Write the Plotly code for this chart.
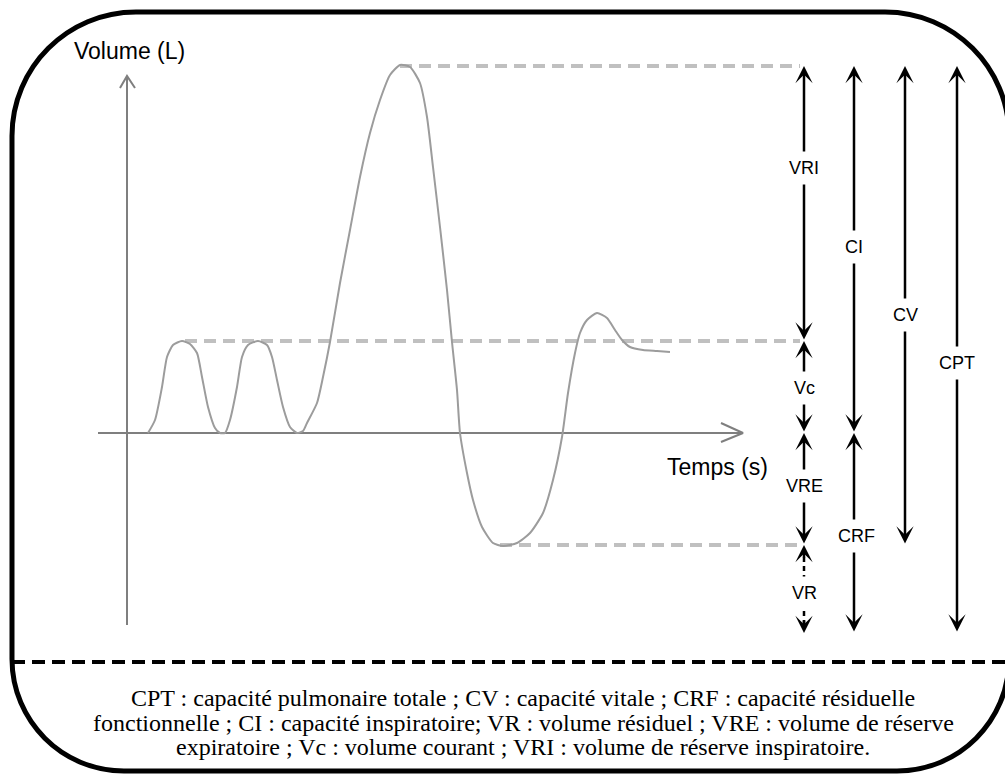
import plotly.graph_objects as go

# ---------------- data (time in s, volume in L relative to FRC level) ----------------
curve_t = [0.21, 0.28, 0.35, 0.40, 0.46, 0.55, 0.63, 0.70, 0.75, 0.81, 0.88, 0.93, 0.98,
           1.03, 1.10, 1.15, 1.21, 1.31, 1.40, 1.45, 1.50, 1.56, 1.63, 1.70, 1.76, 1.80,
           1.90, 1.96, 2.03, 2.13, 2.23, 2.33, 2.43, 2.53, 2.63, 2.73, 2.83, 2.93, 3.00,
           3.06, 3.13, 3.20, 3.25, 3.30, 3.33, 3.40, 3.46, 3.55, 3.66, 3.76, 3.90, 4.03,
           4.16, 4.26, 4.35, 4.41, 4.48, 4.53, 4.60, 4.70, 4.80, 4.88, 4.95, 5.03, 5.16,
           5.30, 5.43]
curve_v = [0.00, 0.13, 0.46, 0.76, 0.88, 0.92, 0.89, 0.80, 0.56, 0.26, 0.05, 0.00, 0.00,
           0.13, 0.46, 0.76, 0.88, 0.92, 0.88, 0.76, 0.53, 0.26, 0.06, 0.00, 0.02, 0.10,
           0.30, 0.56, 0.91, 1.50, 2.03, 2.56, 3.00, 3.33, 3.58, 3.68, 3.66, 3.50, 3.16,
           2.66, 2.06, 1.43, 0.91, 0.43, 0.00, -0.40, -0.67, -0.94, -1.10, -1.13, -1.10, -1.00,
           -0.80, -0.47, -0.04, 0.40, 0.80, 1.00, 1.13, 1.20, 1.15, 1.03, 0.93, 0.86, 0.83,
           0.82, 0.81]

# reference volume levels (L)
level_tlc = 3.67
level_vt_top = 0.92
level_frc = 0.00
level_rv = -1.12
level_zero = -2.00

# volume compartments
volume_names = ["VRI", "Vc", "VRE", "VR"]
volume_lo = [level_vt_top, level_frc, level_rv, level_zero]
volume_hi = [level_tlc, level_vt_top, level_frc, level_rv]
volume_label_v = [2.65, 0.45, -0.53, -1.60]

# capacities
capacity_names = ["CI", "CRF", "CV", "CPT"]
capacity_lo = [level_frc, level_zero, level_rv, level_zero]
capacity_hi = [level_tlc, level_frc, level_tlc, level_tlc]
capacity_label_v = [1.86, -1.03, 1.18, 0.70]

footer_lines = [
    "CPT : capacité pulmonaire totale ; CV : capacité vitale ; CRF : capacité résiduelle",
    "fonctionnelle ; CI : capacité inspiratoire; VR : volume résiduel ; VRE : volume de réserve",
    "expiratoire ; Vc : volume courant ; VRI : volume de réserve inspiratoire.",
]

# ---------------- layout constants ----------------
W, H = 1005, 774
X_RANGE = [-1.27, 8.78]
Y_RANGE = [-3.41, 4.33]
col_vol = 6.77
col_cap = [7.27, 7.27, 7.78, 8.30]
axis_grey = "#7f7f7f"
curve_grey = "#9c9c9c"
dash_grey = "#c0c0c0"
label_font = dict(family="Liberation Sans, Arial", size=18, color="black")
title_font = dict(family="Liberation Sans, Arial", size=23, color="black")
HEAD = dict(arrowhead=3, arrowwidth=2.5, arrowsize=1.15, arrowcolor="black")

fig = go.Figure()

# axes of the diagram (drawn lines with open chevrons)
fig.add_trace(go.Scatter(x=[0, 0], y=[-1.92, 3.57], mode="lines",
                         line=dict(color=axis_grey, width=2), hoverinfo="skip"))
fig.add_trace(go.Scatter(x=[-0.07, 0.0, 0.08], y=[3.45, 3.57, 3.45], mode="lines",
                         line=dict(color=axis_grey, width=2), hoverinfo="skip"))
fig.add_trace(go.Scatter(x=[-0.29, 6.16], y=[0, 0], mode="lines",
                         line=dict(color=axis_grey, width=2), hoverinfo="skip"))
fig.add_trace(go.Scatter(x=[5.94, 6.16, 5.94], y=[0.10, 0.0, -0.09], mode="lines",
                         line=dict(color=axis_grey, width=2), hoverinfo="skip"))

# dashed reference levels
peak_i = curve_v.index(max(curve_v))
trough_i = curve_v.index(min(curve_v))
for t0, lev in [(curve_t[peak_i], level_tlc), (0.58, level_vt_top), (curve_t[trough_i] - 0.03, level_rv)]:
    fig.add_trace(go.Scatter(x=[t0, col_vol - 0.04], y=[lev, lev], mode="lines",
                             line=dict(color=dash_grey, width=4, dash="12px,7px"),
                             hoverinfo="skip"))

# spirogram curve
fig.add_trace(go.Scatter(x=curve_t, y=curve_v, mode="lines",
                         line=dict(color=curve_grey, width=2, shape="spline", smoothing=0.6),
                         hoverinfo="skip"))

annotations = []

def double_arrow(x, lo, hi):
    annotations.append(dict(x=x, y=hi, ax=x, ay=lo, xref="x", yref="y", axref="x", ayref="y",
                            text="", showarrow=True, startarrowhead=3,
                            arrowside="end+start", startarrowsize=HEAD["arrowsize"], **HEAD))

def label(x, y, txt):
    annotations.append(dict(x=x, y=y, xref="x", yref="y", text=txt, showarrow=False,
                            font=label_font, bgcolor="white", borderpad=6,
                            xanchor="center", yanchor="middle"))

# volumes column
for name, lo, hi, lv in zip(volume_names, volume_lo, volume_hi, volume_label_v):
    if name == "VR":
        fig.add_trace(go.Scatter(x=[col_vol, col_vol], y=[lo + 0.08, hi - 0.08], mode="lines",
                                 line=dict(color="black", width=2.5, dash="5px,4px"),
                                 hoverinfo="skip"))
        annotations.append(dict(x=col_vol, y=hi, ax=col_vol, ay=hi - 0.14, xref="x", yref="y",
                                axref="x", ayref="y", text="", showarrow=True, **HEAD))
        annotations.append(dict(x=col_vol, y=lo, ax=col_vol, ay=lo + 0.14, xref="x", yref="y",
                                axref="x", ayref="y", text="", showarrow=True, **HEAD))
    else:
        double_arrow(col_vol, lo, hi)
    label(col_vol, lv, name)

# capacities columns
for name, x, lo, hi, lv in zip(capacity_names, col_cap, capacity_lo, capacity_hi, capacity_label_v):
    double_arrow(x, lo, hi)
    label(x + (0.02 if name == "CRF" else 0), lv, name)

# axis titles
annotations.append(dict(x=0.02, y=3.82, xref="x", yref="y", text="Volume (L)", showarrow=False,
                        font=title_font))
annotations.append(dict(x=5.90, y=-0.34, xref="x", yref="y", text="Temps (s)", showarrow=False,
                        font=title_font))

# footer text
footer_centers = [(523, 698), (523, 723), (523, 747)]
for txt, (cx, cy) in zip(footer_lines, footer_centers):
    annotations.append(dict(x=cx / W, y=1 - cy / H, xref="paper", yref="paper", text=txt,
                            showarrow=False, xanchor="center", yanchor="middle",
                            font=dict(family="Liberation Serif, Times New Roman", size=24,
                                      color="black")))

# ---------------- frame (rounded box) ----------------
def P(px, py):
    return f"{px / W:.5f},{1 - py / H:.5f}"

k = 0.5523
L_, R_, T_, B_ = 12, 1009, 12, 771
rt, rb = 124, 112
path = (f"M {P(L_ + rt, T_)} L {P(R_ - rt, T_)} "
        f"C {P(R_ - rt + k * rt, T_)} {P(R_, T_ + rt - k * rt)} {P(R_, T_ + rt)} "
        f"L {P(R_, B_ - rb)} "
        f"C {P(R_, B_ - rb + k * rb)} {P(R_ - rb + k * rb, B_)} {P(R_ - rb, B_)} "
        f"L {P(L_ + rb, B_)} "
        f"C {P(L_ + rb - k * rb, B_)} {P(L_, B_ - rb + k * rb)} {P(L_, B_ - rb)} "
        f"L {P(L_, T_ + rt)} "
        f"C {P(L_, T_ + rt - k * rt)} {P(L_ + rt - k * rt, T_)} {P(L_ + rt, T_)} Z")

sep_y = 662
shapes = [
    dict(type="path", path=path, xref="paper", yref="paper",
         line=dict(color="black", width=5), fillcolor="rgba(0,0,0,0)", layer="above"),
    dict(type="line", xref="paper", yref="paper", x0=L_ / W, x1=R_ / W,
         y0=1 - sep_y / H, y1=1 - sep_y / H, line=dict(color="black", width=4, dash="13px,7px")),
]

fig.update_layout(
    width=W, height=H,
    margin=dict(l=0, r=0, t=0, b=0),
    paper_bgcolor="white", plot_bgcolor="white",
    showlegend=False,
    xaxis=dict(range=X_RANGE, visible=False, fixedrange=True),
    yaxis=dict(range=Y_RANGE, visible=False, fixedrange=True),
    annotations=annotations,
    shapes=shapes,
)

fig.write_html("out.html", config={"displayModeBar": False},
               post_script="document.body.style.margin='0px';document.body.style.overflow='hidden';")
